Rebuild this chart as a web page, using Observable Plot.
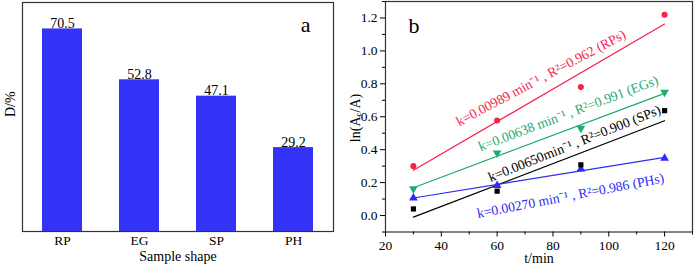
<!DOCTYPE html>
<html><head><meta charset="utf-8">
<script src="https://cdn.jsdelivr.net/npm/d3@7"></script>
<script src="https://cdn.jsdelivr.net/npm/@observablehq/plot@0.6"></script>
<style>
body{margin:0;background:#fff;}
#wrap{display:flex;width:694px;height:270px;}
svg, svg text{font-family:"Liberation Serif",serif !important;}
svg g[aria-label$="tick label"], svg g[aria-label$="tick label"] text{font-size:13.5px !important;}
</style></head>
<body><div id="wrap"></div>
<script>
// Panel a
const shapes = ["RP", "EG", "SP", "PH"];
const removal = [70.5, 52.8, 47.1, 29.2];

// Panel b
const times = [30, 60, 90, 120];
const seriesNames = ["RPs", "EGs", "SPs", "PHs"];
const rpVals = [0.30, 0.577, 0.78, 1.219];
const egVals = [0.162, 0.38, 0.53, 0.749];
const spVals = [0.04, 0.148, 0.308, 0.637];
const phVals = [0.107, 0.182, 0.283, 0.348];
const xTicks = [20, 40, 60, 80, 100, 120];
const xMinor = [30, 50, 70, 90, 110, 130];
const yTicks = [0, 0.2, 0.4, 0.6, 0.8, 1.0, 1.2];
const yMinor = [-0.1, 0.1, 0.3, 0.5, 0.7, 0.9, 1.1, 1.3];

const fitLabels = [
  "k=0.00989 min⁻¹ , R²=0.962 (RPs)",
  "k=0.00638 min⁻¹ , R²=0.991 (EGs)",
  "k=0.00650min⁻¹ , R²=0.900 (SPs)",
  "k=0.00270 min⁻¹ , R²=0.986 (PHs)"
];
const labelT = [75.7, 85.5, 87.7, 86.3];
const labelV = [0.835, 0.62, 0.437, 0.12];
const labelAngle = [-28, -20.7, -21.8, -10.8];

const colors = {RPs: "#f5224a", EGs: "#1faa6e", SPs: "#000000", PHs: "#2b2bf5"};
const symbols = {RPs: "circle", EGs: "triangle", SPs: "square", PHs: "triangle"};
const rotations = {RPs: 0, EGs: 180, SPs: 0, PHs: 0};
const radii = {RPs: 3, EGs: 3.4, SPs: 2.8, PHs: 3.4};

const barData = shapes.map((s, i) => ({shape: s, value: removal[i]}));
const allVals = [rpVals, egVals, spVals, phVals];
const pts = [];
seriesNames.forEach((s, k) => times.forEach((t, i) => pts.push({series: s, t, v: allVals[k][i]})));
const labelData = fitLabels.map((txt, i) => ({series: seriesNames[i], txt, t: labelT[i], v: labelV[i], a: labelAngle[i]}));

const font = {fontFamily: "Liberation Serif", fontSize: "14px", color: "black", background: "white", overflow: "visible"};
const serif = "Liberation Serif";

const plotA = Plot.plot({
  width: 347, height: 270,
  marginLeft: 22, marginRight: 14, marginTop: 2, marginBottom: 39,
  style: font,
  x: {domain: shapes, paddingInner: 0.485, paddingOuter: 0.25, label: null},
  y: {domain: [0, 79.7], label: null, axis: null},
  marks: [
    Plot.barY(barData, {x: "shape", y: "value", fill: "#3333f8"}),
    Plot.text(barData, {x: "shape", y: "value", text: d => d.value.toFixed(1), lineAnchor: "bottom", dy: -1, fontSize: 14, fontFamily: serif}),
    Plot.frame({stroke: "#333", strokeWidth: 1.2}),
    Plot.axisX({tickSize: 0, tickPadding: 4, label: null, fontSize: 13.5, fontFamily: serif}),
    Plot.text(["Sample shape"], {frameAnchor: "bottom", text: d => d, dy: 29, fontSize: 14, fontFamily: serif}),
    Plot.text(["D/%"], {frameAnchor: "left", text: d => d, rotate: -90, dx: -12, fontSize: 14, fontFamily: serif}),
    Plot.text(["a"], {frameAnchor: "top-right", text: d => d, dx: -23, dy: 14, fontSize: 22, fontFamily: serif})
  ]
});

const plotB = Plot.plot({
  width: 347, height: 270,
  marginLeft: 38, marginRight: 2, marginTop: 1, marginBottom: 38.5,
  style: font,
  x: {domain: [20, 130], label: null},
  y: {domain: [-0.1, 1.3], label: null},
  symbol: {type: "identity"},
  marks: [
    Plot.frame({stroke: "#333", strokeWidth: 1.2}),
    Plot.axisX({ticks: xTicks, tickSize: 5, tickPadding: 3, label: null, fontSize: 13, fontFamily: serif}),
    Plot.axisX({ticks: xMinor, tickSize: 3, tickFormat: () => "", label: null}),
    Plot.axisY({ticks: yTicks, tickSize: 5, tickPadding: 3, tickFormat: d3.format(".1f"), label: null, fontSize: 13, fontFamily: serif}),
    Plot.axisY({ticks: yMinor, tickSize: 3, tickFormat: () => "", label: null}),
    Plot.linearRegressionY(pts, {x: "t", y: "v", z: "series", stroke: d => colors[d.series], ci: 0, strokeWidth: 1.2}),
    Plot.dot(pts, {x: "t", y: "v", symbol: d => symbols[d.series], fill: d => colors[d.series], r: d => radii[d.series], rotate: d => rotations[d.series]}),
    Plot.text(labelData, {x: "t", y: "v", text: "txt", fill: d => colors[d.series], rotate: "a", fontSize: 13.7, fontFamily: serif}),
    Plot.text(["t/min"], {frameAnchor: "bottom", text: d => d, dy: 31, fontSize: 14, fontFamily: serif}),
    Plot.text(["b"], {frameAnchor: "top-left", text: d => d, dx: 23, dy: 16, fontSize: 22, fontFamily: serif})
  ]
});

document.getElementById("wrap").append(plotA, plotB);

// y-axis label with subscript for panel b
const svgB = d3.select(plotB);
const lab = svgB.append("text")
  .attr("transform", "translate(8,118) rotate(-90)")
  .attr("text-anchor", "middle")
  .attr("dominant-baseline", "central")
  .attr("font-size", 14)
  .attr("font-family", serif)
  .attr("fill", "black");
lab.append("tspan").text("ln(A");
lab.append("tspan").attr("font-size", 9).attr("dy", 3).text("c");
lab.append("tspan").attr("dy", -3).text("/A)");
</script>
</body></html>
